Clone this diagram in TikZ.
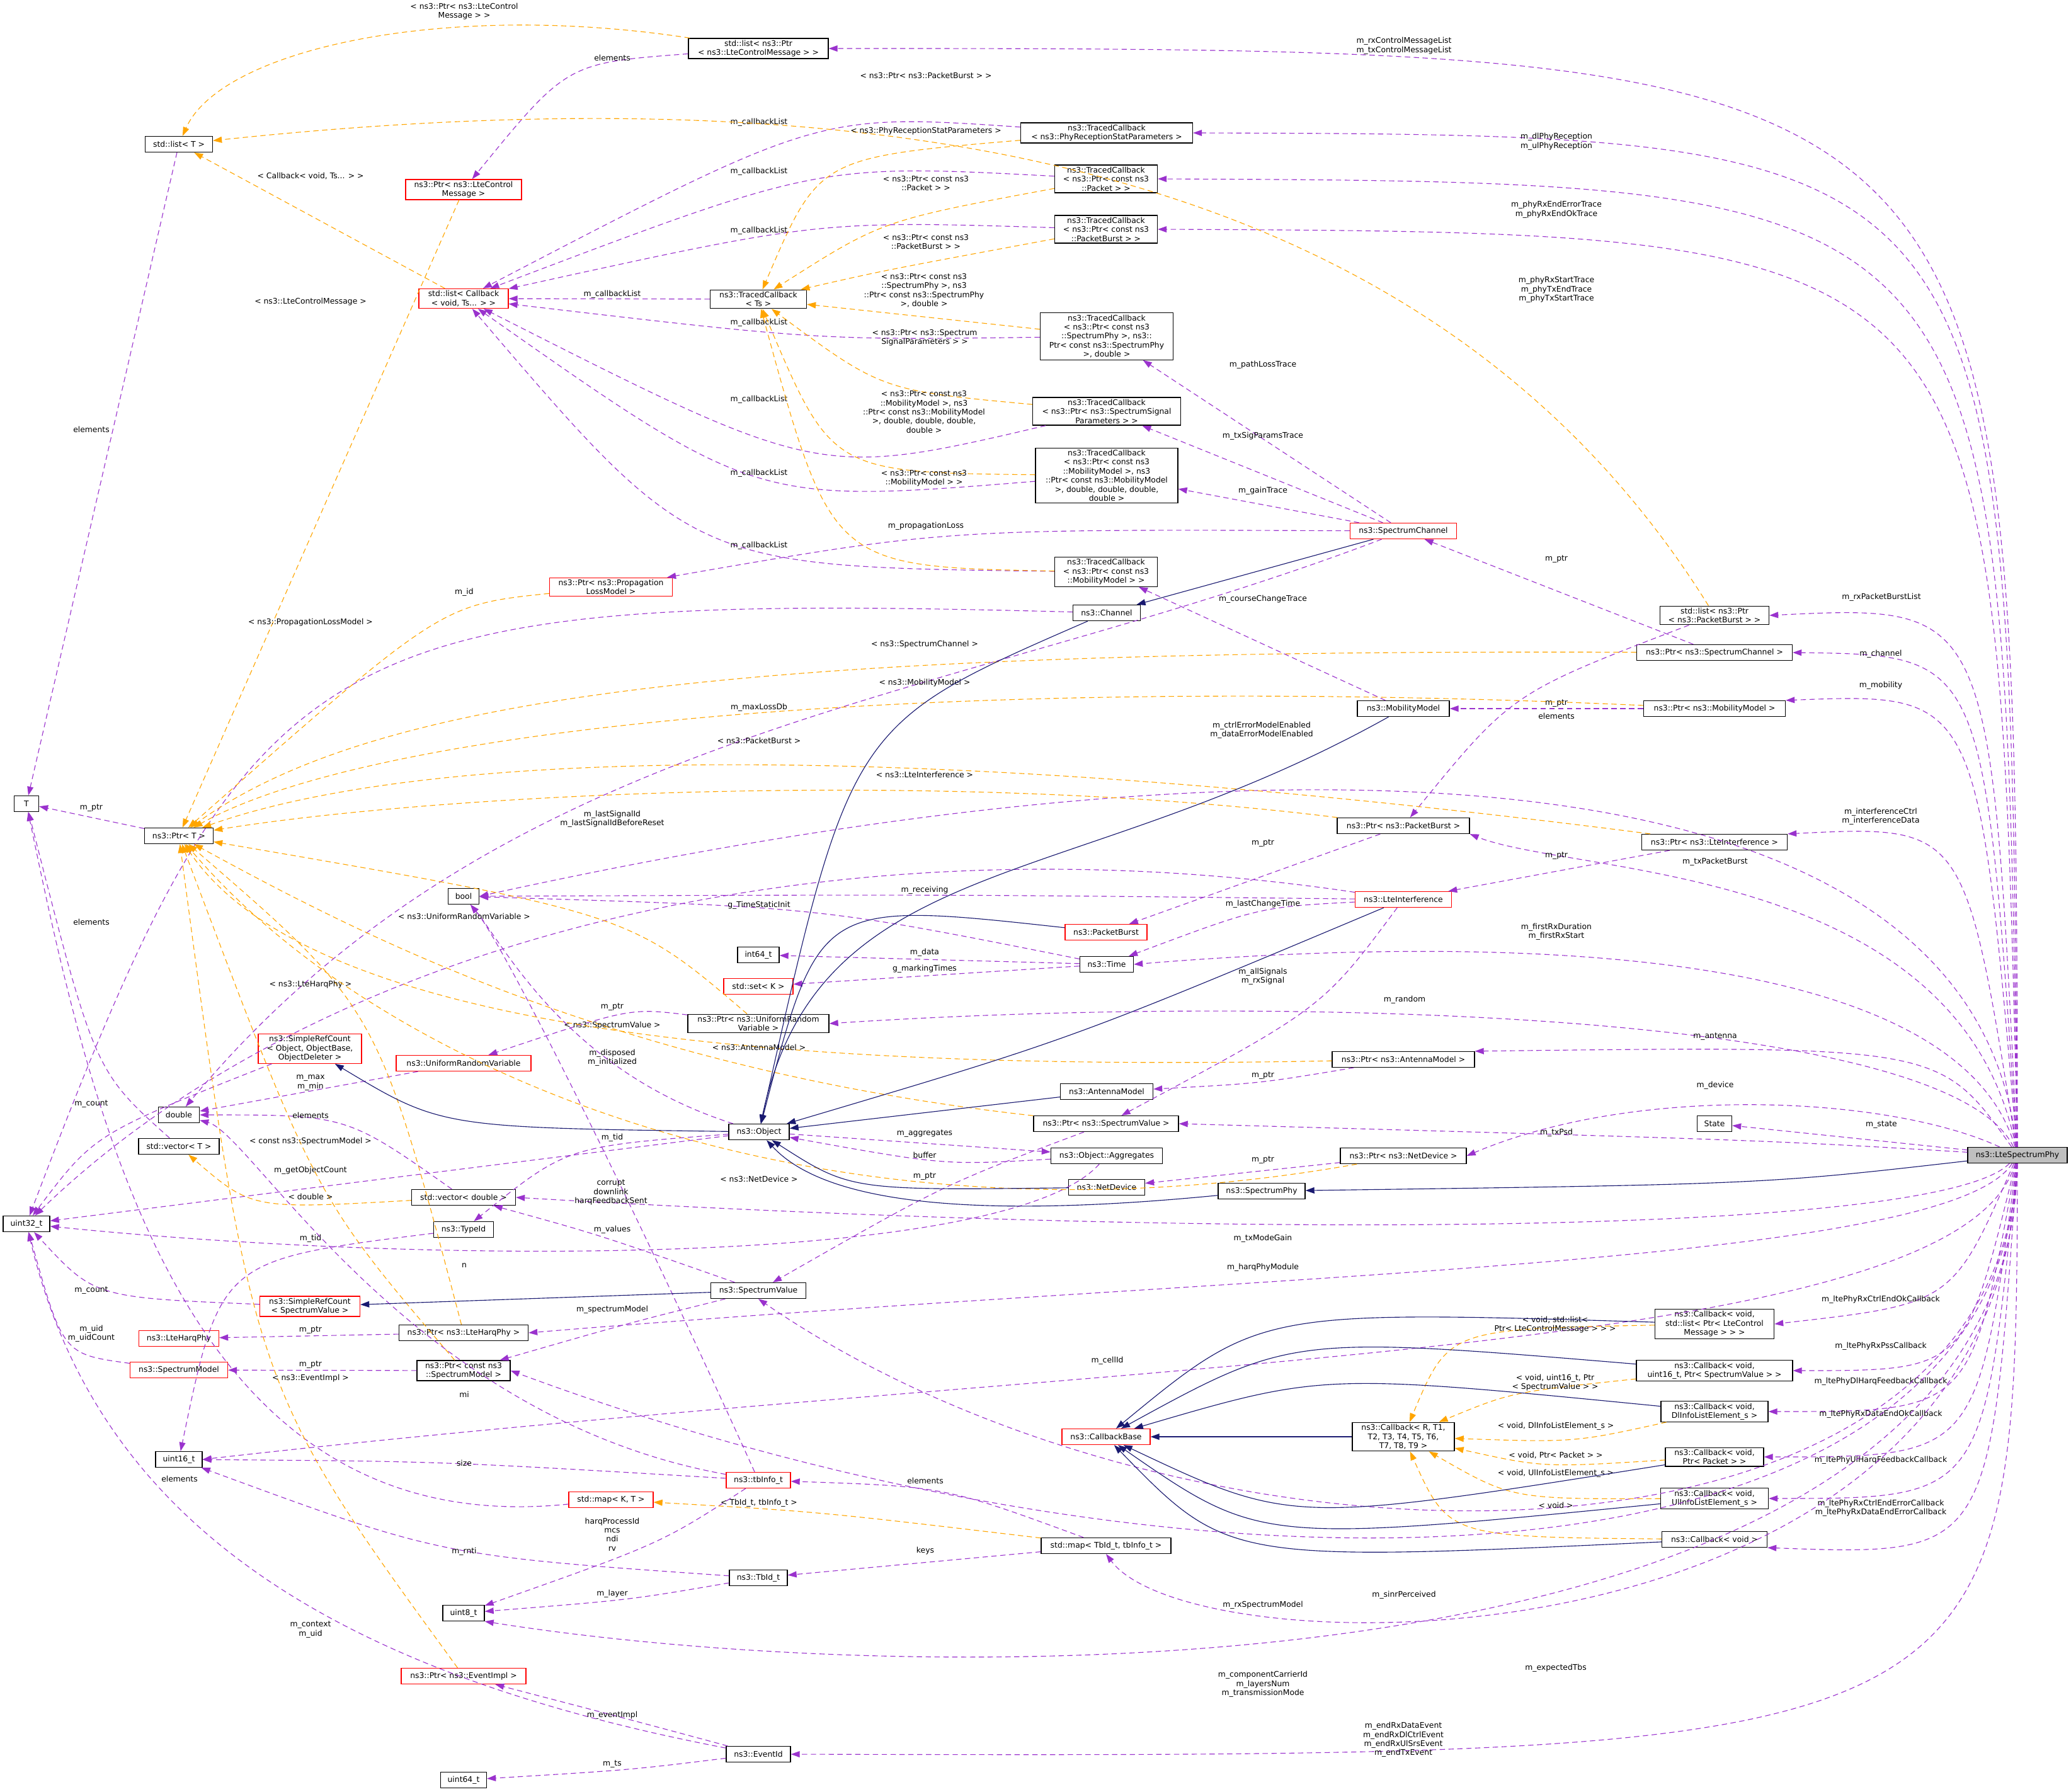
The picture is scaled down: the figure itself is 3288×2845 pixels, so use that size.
\documentclass[tikz,border=0pt]{standalone}
\usepackage{fontspec}
\setmainfont{DejaVu Sans}
\usetikzlibrary{arrows.meta}
\definecolor{memcol}{RGB}{154,50,205}
\definecolor{tmplcol}{RGB}{255,165,0}
\definecolor{inhcol}{RGB}{25,25,112}

\begin{document}
\begin{tikzpicture}[x=0.025cm,y=-0.025cm,
  box/.style={draw=black,line width=0.9pt,fill=white,font=\fontsize{8.8}{10.3}\selectfont,align=center,
    inner xsep=2pt,inner ysep=2pt,minimum height=0.625cm},
  bw/.style={minimum width=#1*0.025cm},
  redbox/.style={box,draw=red},
  mainbox/.style={box,fill=black!25},
  lbl/.style={font=\fontsize{8.8}{10.3}\selectfont,align=center,inner sep=0pt},
  tip/.style={-{Triangle[length=10pt,width=7pt]}},
  mem/.style={tip,draw=memcol,line width=0.8pt,dash pattern=on 6pt off 4pt},
  tmpl/.style={tip,draw=tmplcol,line width=0.8pt,dash pattern=on 6pt off 4pt},
  inh/.style={tip,draw=inhcol,line width=0.8pt}]

\useasboundingbox (0,0) rectangle (3288,2845);

% classes
\node[box,bw=107] (listT) at (284,229) {std::list< T >};
\node[redbox,bw=184] (ptrCtrlMsg) at (736,301) {ns3::Ptr< ns3::LteControl\\Message >};
\node[redbox,bw=142] (listCb) at (736,474) {std::list< Callback\\< void, Ts... > >};
\node[redbox,bw=195] (ptrPropLoss) at (970,932) {ns3::Ptr< ns3::Propagation\\LossModel >};
\node[box,bw=222] (listCtrlMsg) at (1204,77) {std::list< ns3::Ptr\\< ns3::LteControlMessage > >};
\node[box,bw=273] (tcRecep) at (1757,211) {ns3::TracedCallback\\< ns3::PhyReceptionStatParameters >};
\node[box,bw=163] (tcPacket) at (1756,284) {ns3::TracedCallback\\< ns3::Ptr< const ns3\\::Packet > >};
\node[box,bw=163] (tcBurst) at (1756,364) {ns3::TracedCallback\\< ns3::Ptr< const ns3\\::PacketBurst > >};
\node[box,bw=153] (tcTs) at (1204,475) {ns3::TracedCallback\\< Ts >};
\node[box,bw=211] (tcSpecPhy) at (1757,534) {ns3::TracedCallback\\< ns3::Ptr< const ns3\\::SpectrumPhy >, ns3::\\Ptr< const ns3::SpectrumPhy\\>, double >};
\node[box,bw=235] (tcSigParams) at (1757,653) {ns3::TracedCallback\\< ns3::Ptr< ns3::SpectrumSignal\\Parameters > >};
\node[box,bw=226] (tcMobMob) at (1757,755) {ns3::TracedCallback\\< ns3::Ptr< const ns3\\::MobilityModel >, ns3\\::Ptr< const ns3::MobilityModel\\>, double, double, double,\\double >};
\node[box,bw=163] (tcMob) at (1756,908) {ns3::TracedCallback\\< ns3::Ptr< const ns3\\::MobilityModel > >};
\node[redbox,bw=169] (specChannel) at (2228,843) {ns3::SpectrumChannel};
\node[box,bw=107] (channel) at (1757,973) {ns3::Channel};
\node[box,bw=146] (mobility) at (2228,1125) {ns3::MobilityModel};
\node[box,bw=210] (ptrBurst) at (2228,1311) {ns3::Ptr< ns3::PacketBurst >};
\node[redbox,bw=153] (lteInterf) at (2228,1428) {ns3::LteInterference};
\node[redbox,bw=130] (packetBurst) at (1756,1480) {ns3::PacketBurst};
\node[box,bw=85] (time) at (1757,1531) {ns3::Time};
\node[box,bw=66] (int64) at (1204,1516) {int64\_t};
\node[redbox,bw=110] (setK) at (1204,1566) {std::set< K >};
\node[box,bw=224] (ptrUrv) at (1204,1625) {ns3::Ptr< ns3::UniformRandom\\Variable >};
\node[box,bw=147] (antenna) at (1757,1733) {ns3::AntennaModel};
\node[box,bw=96] (object) at (1205,1797) {ns3::Object};
\node[box,bw=230] (ptrSpecValue) at (1756,1784) {ns3::Ptr< ns3::SpectrumValue >};
\node[box,bw=177] (aggregates) at (1757,1835) {ns3::Object::Aggregates};
\node[box,bw=121] (netDevice) at (1757,1885) {ns3::NetDevice};
\node[box,bw=231] (ptrInterf) at (2722,1337) {ns3::Ptr< ns3::LteInterference >};
\node[box,bw=173] (listBurst) at (2722,977) {std::list< ns3::Ptr\\< ns3::PacketBurst > >};
\node[box,bw=247] (ptrSpecChannel) at (2722,1036) {ns3::Ptr< ns3::SpectrumChannel >};
\node[box,bw=225] (ptrMobility) at (2722,1125) {ns3::Ptr< ns3::MobilityModel >};
\node[box,bw=226] (ptrAntenna) at (2228,1682) {ns3::Ptr< ns3::AntennaModel >};
\node[box,bw=200] (ptrNetDevice) at (2228,1835) {ns3::Ptr< ns3::NetDevice >};
\node[box,bw=55] (state) at (2722,1784) {State};
\node[mainbox,bw=158] (lsp) at (3203,1834) {ns3::LteSpectrumPhy};
\node[box,bw=138] (specPhy) at (2003,1891) {ns3::SpectrumPhy};
\node[box,bw=39] (T) at (42,1276) {T};
\node[box,bw=109] (ptrT) at (284,1327) {ns3::Ptr< T >};
\node[box,bw=49] (bool) at (736,1423) {bool};
\node[redbox,bw=164] (refObject) at (492,1665) {ns3::SimpleRefCount\\< Object, ObjectBase,\\ObjectDeleter >};
\node[redbox,bw=214] (urv) at (736,1688) {ns3::UniformRandomVariable};
\node[box,bw=65] (double) at (284,1770) {double};
\node[box,bw=128] (vectorT) at (284,1820) {std::vector< T >};
\node[box,bw=74] (uint32) at (42,1943) {uint32\_t};
\node[box,bw=165] (vectorDouble) at (736,1901) {std::vector< double >};
\node[box,bw=95] (typeId) at (736,1952) {ns3::TypeId};
\node[redbox,bw=159] (refSpecValue) at (492,2074) {ns3::SimpleRefCount\\< SpectrumValue >};
\node[redbox,bw=127] (harqPhy) at (284,2125) {ns3::LteHarqPhy};
\node[box,bw=205] (ptrHarqPhy) at (736,2116) {ns3::Ptr< ns3::LteHarqPhy >};
\node[redbox,bw=155] (specModel) at (284,2175) {ns3::SpectrumModel};
\node[box,bw=148] (ptrSpecModel) at (736,2176) {ns3::Ptr< const ns3\\::SpectrumModel >};
\node[box,bw=74] (uint16) at (284,2317) {uint16\_t};
\node[redbox,bw=134] (mapKT) at (970,2381) {std::map< K, T >};
\node[box,bw=66] (uint8) at (736,2561) {uint8\_t};
\node[redbox,bw=198] (ptrEventImpl) at (736,2661) {ns3::Ptr< ns3::EventImpl >};
\node[box,bw=73] (uint64) at (736,2826) {uint64\_t};
\node[box,bw=151] (specValue) at (1204,2049) {ns3::SpectrumValue};
\node[redbox,bw=140] (cbBase) at (1756,2281) {ns3::CallbackBase};
\node[redbox,bw=102] (tbInfo) at (1204,2350) {ns3::tbInfo\_t};
\node[box,bw=206] (mapTb) at (1756,2454) {std::map< TbId\_t, tbInfo\_t >};
\node[box,bw=92] (tbId) at (1204,2505) {ns3::TbId\_t};
\node[box,bw=102] (eventId) at (1204,2785) {ns3::EventId};
\node[box,bw=162] (cbRT) at (2228,2281) {ns3::Callback< R, T1,\\T2, T3, T4, T5, T6,\\T7, T8, T9 >};
\node[box,bw=189] (cbCtrlMsg) at (2722,2102) {ns3::Callback< void,\\std::list< Ptr< LteControl\\Message > > >};
\node[box,bw=248] (cbPss) at (2722,2176) {ns3::Callback< void,\\uint16\_t, Ptr< SpectrumValue > >};
\node[box,bw=170] (cbDlInfo) at (2722,2241) {ns3::Callback< void,\\DlInfoListElement\_s >};
\node[box,bw=156] (cbPacket) at (2722,2313) {ns3::Callback< void,\\Ptr< Packet > >};
\node[box,bw=171] (cbUlInfo) at (2722,2379) {ns3::Callback< void,\\UlInfoListElement\_s >};
\node[box,bw=167] (cbVoid) at (2722,2444) {ns3::Callback< void >};

% members of ns3::LteSpectrumPhy
\draw[mem] (lsp) .. controls (3200,77) .. (listCtrlMsg.east) node[lbl] at (2229,73) {m\_rxControlMessageList\\m\_txControlMessageList};
\draw[mem] (lsp) .. controls (3190,215) .. (tcRecep.east) node[lbl] at (2471,225) {m\_dlPhyReception\\m\_ulPhyReception};
\draw[mem] (lsp) .. controls (3180,290) .. (tcPacket.east) node[lbl] at (2471,333) {m\_phyRxEndErrorTrace\\m\_phyRxEndOkTrace};
\draw[mem] (lsp) .. controls (3170,370) .. (tcBurst.east) node[lbl] at (2471,460) {m\_phyRxStartTrace\\m\_phyTxEndTrace\\m\_phyTxStartTrace};
\draw[mem] (lsp) .. controls (3160,960) .. (listBurst.east) node[lbl] at (2987,948) {m\_rxPacketBurstList};
\draw[mem] (lsp) .. controls (3150,1040) .. (ptrSpecChannel.east) node[lbl] at (2986,1038) {m\_channel};
\draw[mem] (lsp) .. controls (3140,1100) .. (ptrMobility.north east) node[lbl] at (2986,1088) {m\_mobility};
\draw[mem] (lsp) .. controls (3130,1160) and (2000,1150) .. (bool.east) node[lbl] at (2003,1159) {m\_ctrlErrorModelEnabled\\m\_dataErrorModelEnabled};
\draw[mem] (lsp) .. controls (3120,1310) .. (ptrInterf.north east) node[lbl] at (2986,1296) {m\_interferenceCtrl\\m\_interferenceData};
\draw[mem] (lsp) .. controls (3110,1370) and (2500,1390) .. (ptrBurst.south east) node[lbl] at (2723,1368) {m\_txPacketBurst};
\draw[mem] (lsp) .. controls (3100,1480) and (2300,1490) .. (time.east) node[lbl] at (2471,1479) {m\_firstRxDuration\\m\_firstRxStart};
\draw[mem] (lsp) .. controls (3090,1600) and (2000,1580) .. (ptrUrv.east) node[lbl] at (2230,1587) {m\_random};
\draw[mem] (lsp) .. controls (3080,1660) .. (ptrAntenna.north east) node[lbl] at (2723,1646) {m\_antenna};
\draw[mem] (lsp) .. controls (3000,1740) and (2600,1720) .. (ptrNetDevice.east) node[lbl] at (2723,1723) {m\_device};
\draw[mem] (lsp) -- (state) node[lbl] at (2987,1786) {m\_state};
\draw[mem] (lsp) .. controls (2800,1810) .. (ptrSpecValue.east) node[lbl] at (2471,1798) {m\_txPsd};
\draw[mem] (lsp) .. controls (3080,1960) and (2000,1970) .. (vectorDouble.east) node[lbl] at (2005,1966) {m\_txModeGain};
\draw[mem] (lsp) .. controls (3090,2010) and (2000,2020) .. (ptrHarqPhy.east) node[lbl] at (2005,2012) {m\_harqPhyModule};
\draw[mem] (lsp) .. controls (3100,2070) .. (cbCtrlMsg.east) node[lbl] at (2986,2063) {m\_ltePhyRxCtrlEndOkCallback};
\draw[mem] (lsp) .. controls (3110,2160) and (1800,2150) .. (uint16.east) node[lbl] at (1758,2160) {m\_cellId};
\draw[mem] (lsp) .. controls (3120,2176) .. (cbPss.east) node[lbl] at (2986,2137) {m\_ltePhyRxPssCallback};
\draw[mem] (lsp) .. controls (3130,2241) .. (cbDlInfo.east) node[lbl] at (2986,2193) {m\_ltePhyDlHarqFeedbackCallback};
\draw[mem] (lsp) .. controls (3140,2313) .. (cbPacket.east) node[lbl] at (2986,2245) {m\_ltePhyRxDataEndOkCallback};
\draw[mem] (lsp) .. controls (3150,2379) .. (cbUlInfo.east) node[lbl] at (2986,2318) {m\_ltePhyUlHarqFeedbackCallback};
\draw[mem] (lsp) .. controls (3160,2470) .. (cbVoid.south east) node[lbl] at (2986,2394) {m\_ltePhyRxCtrlEndErrorCallback\\m\_ltePhyRxDataEndErrorCallback};
\draw[mem] (lsp) .. controls (3170,2540) and (1900,2540) .. (specValue.south) node[lbl] at (2229,2532) {m\_sinrPerceived};
\draw[mem] (lsp) .. controls (3175,2560) and (1900,2580) .. (ptrSpecModel.east) node[lbl] at (2005,2548) {m\_rxSpectrumModel};
\draw[mem] (lsp) .. controls (3180,2660) and (1900,2660) .. (mapTb.south) node[lbl] at (2470,2648) {m\_expectedTbs};
\draw[mem] (lsp) .. controls (3190,2700) and (1500,2690) .. (uint8.south east) node[lbl] at (2005,2674) {m\_componentCarrierId\\m\_layersNum\\m\_transmissionMode};
\draw[mem] (lsp) .. controls (3200,2790) .. (eventId.east) node[lbl] at (2228,2762) {m\_endRxDataEvent\\m\_endRxDlCtrlEvent\\m\_endRxUlSrsEvent\\m\_endTxEvent};

% other members
\draw[mem] (listCtrlMsg) .. controls (900,100) .. (ptrCtrlMsg) node[lbl] at (972,92) {elements};
\draw[mem] (listT) -- (T) node[lbl] at (145,682) {elements};
\draw[mem] (tcRecep) .. controls (1300,180) .. (listCb) node[lbl] at (1205,194) {m\_callbackList};
\draw[mem] (tcPacket) .. controls (1300,260) .. (listCb) node[lbl] at (1205,272) {m\_callbackList};
\draw[mem] (tcBurst) .. controls (1300,350) .. (listCb) node[lbl] at (1205,366) {m\_callbackList};
\draw[mem] (tcTs) -- (listCb) node[lbl] at (972,467) {m\_callbackList};
\draw[mem] (tcSpecPhy) .. controls (1300,540) .. (listCb) node[lbl] at (1205,512) {m\_callbackList};
\draw[mem] (tcSigParams) .. controls (1300,760) .. (listCb) node[lbl] at (1205,634) {m\_callbackList};
\draw[mem] (tcMobMob) .. controls (1200,800) .. (listCb) node[lbl] at (1205,751) {m\_callbackList};
\draw[mem] (tcMob) .. controls (1100,900) .. (listCb) node[lbl] at (1205,866) {m\_callbackList};
\draw[mem] (specChannel) -- (tcSpecPhy) node[lbl] at (2005,579) {m\_pathLossTrace};
\draw[mem] (specChannel) -- (tcSigParams) node[lbl] at (2005,692) {m\_txSigParamsTrace};
\draw[mem] (specChannel) -- (tcMobMob) node[lbl] at (2005,779) {m\_gainTrace};
\draw[mem] (specChannel) .. controls (1500,840) .. (ptrPropLoss) node[lbl] at (1470,835) {m\_propagationLoss};
\draw[mem] (mobility) -- (tcMob) node[lbl] at (2005,951) {m\_courseChangeTrace};
\draw[mem] (channel) .. controls (500,940) and (400,1000) .. (uint32) node[lbl] at (737,940) {m\_id};
\draw[mem] (specChannel) .. controls (1500,1120) and (800,1150) .. (double) node[lbl] at (1205,1123) {m\_maxLossDb};
\draw[mem] (ptrSpecChannel) -- (specChannel) node[lbl] at (2471,888) {m\_ptr};
\draw[mem] (listBurst) .. controls (2400,1100) .. (ptrBurst) node[lbl] at (2471,1137) {elements};
\draw[mem] (ptrMobility) -- (mobility) node[lbl] at (2471,1117) {m\_ptr};
\draw[mem] (ptrInterf) -- (lteInterf) node[lbl] at (2471,1359) {m\_ptr};
\draw[mem] (ptrBurst) -- (packetBurst) node[lbl] at (2005,1339) {m\_ptr};
\draw[mem] (ptrT) -- (T) node[lbl] at (145,1283) {m\_ptr};
\draw[mem] (lteInterf) .. controls (1300,1290) and (500,1500) .. (uint32) node[lbl] at (972,1300) {m\_lastSignalId\\m\_lastSignalIdBeforeReset};
\draw[mem] (lteInterf) .. controls (1500,1420) .. (bool) node[lbl] at (1468,1413) {m\_receiving};
\draw[mem] (lteInterf) .. controls (2000,1440) .. (time) node[lbl] at (2005,1435) {m\_lastChangeTime};
\draw[mem] (lteInterf) .. controls (2100,1600) .. (ptrSpecValue) node[lbl] at (2005,1550) {m\_allSignals\\m\_rxSignal};
\draw[mem] (time) .. controls (1300,1440) .. (bool) node[lbl] at (1205,1437) {g\_TimeStaticInit};
\draw[mem] (time) -- (int64) node[lbl] at (1468,1512) {m\_data};
\draw[mem] (time) -- (setK) node[lbl] at (1468,1538) {g\_markingTimes};
\draw[mem] (ptrUrv) .. controls (1000,1600) .. (urv) node[lbl] at (972,1599) {m\_ptr};
\draw[mem] (urv) -- (double) node[lbl] at (493,1719) {m\_max\\m\_min};
\draw[mem] (ptrAntenna) .. controls (2000,1720) .. (antenna) node[lbl] at (2005,1708) {m\_ptr};
\draw[mem] (refObject) .. controls (150,1800) .. (uint32) node[lbl] at (145,1753) {m\_count};
\draw[mem] (object) .. controls (900,1700) and (800,1500) .. (bool) node[lbl] at (972,1679) {m\_disposed\\m\_initialized};
\draw[mem] (object) -- (aggregates) node[lbl] at (1468,1800) {m\_aggregates};
\draw[mem] (aggregates) .. controls (1500,1850) .. (object) node[lbl] at (1468,1834) {buffer};
\draw[mem] (aggregates) .. controls (1600,2010) and (700,2010) .. (uint32) node[lbl] at (737,2009) {n};
\draw[mem] (object) .. controls (900,1820) .. (typeId) node[lbl] at (972,1806) {m\_tid};
\draw[mem] (object) .. controls (700,1860) .. (uint32) node[lbl] at (493,1858) {m\_getObjectCount};
\draw[mem] (typeId) .. controls (350,2000) .. (uint16) node[lbl] at (493,1966) {m\_tid};
\draw[mem] (ptrNetDevice) -- (netDevice) node[lbl] at (2005,1842) {m\_ptr};
\draw[mem] (ptrSpecValue) .. controls (1500,1880) .. (specValue) node[lbl] at (1468,1868) {m\_ptr};
\draw[mem] (specValue) .. controls (950,1960) .. (vectorDouble) node[lbl] at (972,1952) {m\_values};
\draw[mem] (vectorDouble) .. controls (550,1770) .. (double) node[lbl] at (493,1771) {elements};
\draw[mem] (specValue) .. controls (1000,2100) .. (ptrSpecModel) node[lbl] at (972,2079) {m\_spectrumModel};
\draw[mem] (ptrSpecModel) -- (specModel) node[lbl] at (493,2167) {m\_ptr};
\draw[mem] (specModel) .. controls (100,2150) .. (uint32) node[lbl] at (145,2117) {m\_uid\\m\_uidCount};
\draw[mem] (refSpecValue) .. controls (150,2060) .. (uint32) node[lbl] at (145,2049) {m\_count};
\draw[mem] (ptrHarqPhy) -- (harqPhy) node[lbl] at (493,2112) {m\_ptr};
\draw[mem] (vectorT) .. controls (150,1700) .. (T) node[lbl] at (145,1464) {elements};
\draw[mem] (mapKT) .. controls (300,2450) and (150,1800) .. (T) node[lbl] at (285,2348) {elements};
\draw[mem] (mapTb) .. controls (1500,2360) .. (tbInfo) node[lbl] at (1469,2351) {elements};
\draw[mem] (mapTb) -- (tbId) node[lbl] at (1469,2462) {keys};
\draw[mem] (tbInfo) .. controls (700,2320) .. (uint16) node[lbl] at (737,2323) {size};
\draw[mem] (tbInfo) .. controls (1000,1900) and (800,1500) .. (bool) node[lbl] at (970,1893) {corrupt\\downlink\\harqFeedbackSent};
\draw[mem] (tbInfo) .. controls (1050,2450) .. (uint8) node[lbl] at (972,2436) {harqProcessId\\mcs\\ndi\\rv};
\draw[mem] (tbInfo) .. controls (650,2250) and (400,1800) .. (double) node[lbl] at (737,2214) {mi};
\draw[mem] (tbId) .. controls (700,2470) .. (uint16) node[lbl] at (737,2463) {m\_rnti};
\draw[mem] (tbId) .. controls (1000,2540) .. (uint8) node[lbl] at (972,2530) {m\_layer};
\draw[mem] (eventId) .. controls (1000,2730) .. (ptrEventImpl) node[lbl] at (972,2723) {m\_eventImpl};
\draw[mem] (eventId) .. controls (500,2650) and (150,2400) .. (uint32) node[lbl] at (493,2587) {m\_context\\m\_uid};
\draw[mem] (eventId) .. controls (1000,2810) .. (uint64) node[lbl] at (972,2801) {m\_ts};

% template instances
\draw[tmpl] (listCtrlMsg) .. controls (700,0) and (350,80) .. (listT) node[lbl] at (737,18) {< ns3::Ptr< ns3::LteControl\\Message > >};
\draw[tmpl] (listBurst) .. controls (2300,300) and (1500,100) .. (listT) node[lbl] at (1470,120) {< ns3::Ptr< ns3::PacketBurst > >};
\draw[tmpl] (listCb) -- (listT) node[lbl] at (493,280) {< Callback< void, Ts... > >};
\draw[tmpl] (ptrCtrlMsg) -- (ptrT) node[lbl] at (493,479) {< ns3::LteControlMessage >};
\draw[tmpl] (tcRecep) .. controls (1300,250) .. (tcTs) node[lbl] at (1470,208) {< ns3::PhyReceptionStatParameters >};
\draw[tmpl] (tcPacket) .. controls (1400,350) .. (tcTs) node[lbl] at (1470,291) {< ns3::Ptr< const ns3\\::Packet > >};
\draw[tmpl] (tcBurst) .. controls (1400,430) .. (tcTs) node[lbl] at (1470,384) {< ns3::Ptr< const ns3\\::PacketBurst > >};
\draw[tmpl] (tcSpecPhy) -- (tcTs) node[lbl] at (1467,461) {< ns3::Ptr< const ns3\\::SpectrumPhy >, ns3\\::Ptr< const ns3::SpectrumPhy\\>, double >};
\draw[tmpl] (tcSigParams) .. controls (1400,620) .. (tcTs) node[lbl] at (1468,536) {< ns3::Ptr< ns3::Spectrum\\SignalParameters > >};
\draw[tmpl] (tcMobMob) .. controls (1320,750) .. (tcTs) node[lbl] at (1467,654) {< ns3::Ptr< const ns3\\::MobilityModel >, ns3\\::Ptr< const ns3::MobilityModel\\>, double, double, double,\\double >};
\draw[tmpl] (tcMob) .. controls (1320,900) .. (tcTs) node[lbl] at (1467,759) {< ns3::Ptr< const ns3\\::MobilityModel > >};
\draw[tmpl] (ptrPropLoss) .. controls (700,960) .. (ptrT) node[lbl] at (493,988) {< ns3::PropagationLossModel >};
\draw[tmpl] (ptrSpecChannel) .. controls (1200,1030) and (600,1100) .. (ptrT) node[lbl] at (1468,1023) {< ns3::SpectrumChannel >};
\draw[tmpl] (ptrMobility) .. controls (1500,1070) and (600,1150) .. (ptrT) node[lbl] at (1468,1084) {< ns3::MobilityModel >};
\draw[tmpl] (ptrInterf) .. controls (1500,1180) and (700,1180) .. (ptrT) node[lbl] at (1205,1176) {< ns3::PacketBurst >};
\draw[tmpl] (ptrBurst) .. controls (1500,1220) and (700,1260) .. (ptrT) node[lbl] at (1468,1230) {< ns3::LteInterference >};
\draw[tmpl] (ptrUrv) .. controls (1000,1450) .. (ptrT) node[lbl] at (737,1455) {< ns3::UniformRandomVariable >};
\draw[tmpl] (ptrHarqPhy) .. controls (600,1600) .. (ptrT) node[lbl] at (493,1563) {< ns3::LteHarqPhy >};
\draw[tmpl] (ptrSpecValue) .. controls (1000,1700) and (600,1500) .. (ptrT) node[lbl] at (972,1628) {< ns3::SpectrumValue >};
\draw[tmpl] (ptrAntenna) .. controls (1300,1700) and (500,1650) .. (ptrT) node[lbl] at (1205,1663) {< ns3::AntennaModel >};
\draw[tmpl] (ptrSpecModel) .. controls (500,1900) .. (ptrT) node[lbl] at (493,1812) {< const ns3::SpectrumModel >};
\draw[tmpl] (ptrNetDevice) .. controls (1300,2000) and (600,1700) .. (ptrT) node[lbl] at (1205,1872) {< ns3::NetDevice >};
\draw[tmpl] (ptrEventImpl) .. controls (400,2200) .. (ptrT) node[lbl] at (493,2188) {< ns3::EventImpl >};
\draw[tmpl] (vectorDouble) .. controls (400,1920) .. (vectorT) node[lbl] at (493,1900) {< double >};
\draw[tmpl] (mapTb) .. controls (1300,2400) .. (mapKT) node[lbl] at (1205,2386) {< TbId\_t, tbInfo\_t >};
\draw[tmpl] (cbCtrlMsg) .. controls (2300,2110) .. (cbRT) node[lbl] at (2469,2103) {< void, std::list<\\Ptr< LteControlMessage > > >};
\draw[tmpl] (cbPss) .. controls (2400,2210) .. (cbRT) node[lbl] at (2469,2195) {< void, uint16\_t, Ptr\\< SpectrumValue > >};
\draw[tmpl] (cbDlInfo) .. controls (2500,2290) .. (cbRT) node[lbl] at (2470,2264) {< void, DlInfoListElement\_s >};
\draw[tmpl] (cbPacket) .. controls (2450,2330) .. (cbRT) node[lbl] at (2470,2310) {< void, Ptr< Packet > >};
\draw[tmpl] (cbUlInfo) .. controls (2400,2380) .. (cbRT) node[lbl] at (2470,2339) {< void, UlInfoListElement\_s >};
\draw[tmpl] (cbVoid) .. controls (2300,2440) .. (cbRT) node[lbl] at (2470,2390) {< void >};

% inheritance
\draw[inh] (specChannel) -- (channel);
\draw[inh] (channel) .. controls (1350,1150) .. (object);
\draw[inh] (mobility) .. controls (1700,1420) and (1300,1350) .. (object);
\draw[inh] (lteInterf) .. controls (1700,1650) .. (object);
\draw[inh] (packetBurst) .. controls (1300,1430) .. (object);
\draw[inh] (antenna) -- (object);
\draw[inh] (netDevice) .. controls (1350,1890) .. (object);
\draw[inh] (specPhy) .. controls (1500,1940) and (1300,1900) .. (object);
\draw[inh] (object) .. controls (700,1790) .. (refObject);
\draw[inh] (lsp) .. controls (2800,1880) .. (specPhy);
\draw[inh] (specValue) -- (refSpecValue);
\draw[inh] (cbRT) -- (cbBase);
\draw[inh] (cbCtrlMsg) .. controls (2000,2080) .. (cbBase);
\draw[inh] (cbPss) .. controls (2050,2120) .. (cbBase);
\draw[inh] (cbDlInfo) .. controls (2100,2180) .. (cbBase);
\draw[inh] (cbPacket) .. controls (2050,2420) .. (cbBase);
\draw[inh] (cbUlInfo) .. controls (2000,2450) .. (cbBase);
\draw[inh] (cbVoid) .. controls (1950,2480) .. (cbBase);
\end{tikzpicture}
\end{document}
